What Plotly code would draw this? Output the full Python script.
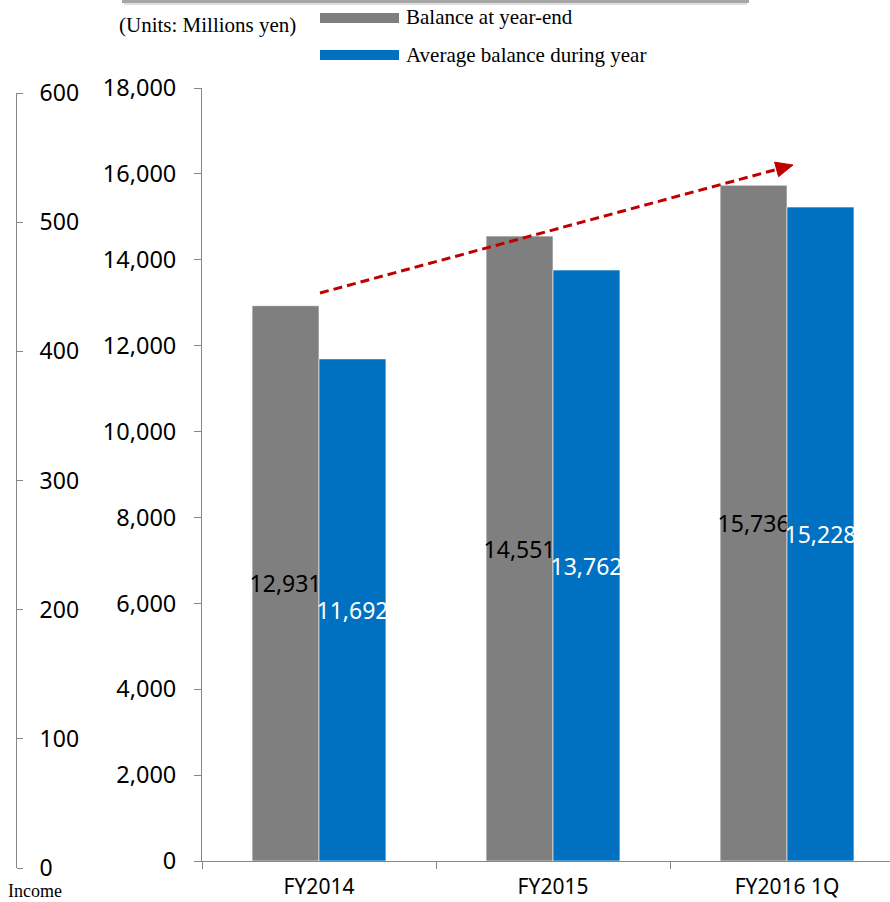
import plotly.graph_objects as go

# ---- data ----
categories = ["FY2014", "FY2015", "FY2016 1Q"]
balance_year_end = [12931, 14551, 15736]
average_balance = [11692, 13762, 15228]
series_names = ["Balance at year-end", "Average balance during year"]
units_label = "(Units: Millions yen)"
left_axis_title = "Income"

W, H = 890, 902
GRAY = "#7F7F7F"
BLUE = "#0070C0"
AXIS = "#868686"
RED = "#C00000"
NUM_FONT = "Noto Sans"
SERIF = "Liberation Serif"


def px(x):
    return x / W


def py(y):
    return 1 - y / H


fig = go.Figure()
fig.add_trace(go.Bar(
    x=categories, y=balance_year_end, name=series_names[0],
    marker=dict(color=GRAY, line=dict(color="white", width=0.6)),
    text=[f"{v:,}" for v in balance_year_end], textposition="inside",
    insidetextanchor="middle", constraintext="none", textangle=0,
    textfont=dict(color="black", size=23, family=NUM_FONT),
    showlegend=False,
))
fig.add_trace(go.Bar(
    x=categories, y=average_balance, name=series_names[1],
    marker=dict(color=BLUE, line=dict(color="white", width=0.6)),
    text=[f"{v:,}" for v in average_balance], textposition="inside",
    insidetextanchor="middle", constraintext="none", textangle=0,
    textfont=dict(color="white", size=23, family=NUM_FONT),
    showlegend=False,
))
# carrier trace for the secondary (income) axis
fig.add_trace(go.Scatter(x=[categories[0]], y=[None], yaxis="y2",
                         mode="lines", showlegend=False, hoverinfo="skip"))

# ---- trend arrow (dashed shaft + solid head) ----
x0p, y0p = 320, 293
tipx, tipy = 793, 165
dx, dy = tipx - x0p, tipy - y0p
L = (dx ** 2 + dy ** 2) ** 0.5
ux, uy = dx / L, dy / L
hl, hw = 17, 7.5
bx, by = tipx - hl * ux, tipy - hl * uy
pxn, pyn = -uy, ux
head = [(tipx, tipy), (bx + hw * pxn, by + hw * pyn), (bx - hw * pxn, by - hw * pyn)]
head_path = "M " + " L ".join(f"{px(a)},{py(b)}" for a, b in head) + " Z"

shapes = [
    # box edge with shadow along the top
    dict(type="rect", xref="paper", yref="paper", x0=px(122), x1=px(749),
         y0=py(3), y1=py(0), fillcolor="#a6a6a6", line=dict(width=0)),
    dict(type="rect", xref="paper", yref="paper", x0=px(124), x1=px(747),
         y0=py(5), y1=py(3), fillcolor="#dedede", line=dict(width=0)),
    # legend swatches
    dict(type="rect", xref="paper", yref="paper", x0=px(320), x1=px(399),
         y0=py(23), y1=py(13), fillcolor=GRAY, line=dict(width=0)),
    dict(type="rect", xref="paper", yref="paper", x0=px(320), x1=px(399),
         y0=py(60), y1=py(50), fillcolor=BLUE, line=dict(width=0)),
    # dashed trend line
    dict(type="line", xref="paper", yref="paper", x0=px(x0p), y0=py(y0p),
         x1=px(bx), y1=py(by), line=dict(color=RED, width=3, dash="9px,5px")),
    dict(type="path", xref="paper", yref="paper", path=head_path,
         fillcolor=RED, line=dict(color=RED, width=1)),
]

annotations = [
    dict(text=units_label, xref="paper", yref="paper", x=px(117), y=py(25),
         xanchor="left", yanchor="middle", showarrow=False,
         font=dict(family=SERIF, size=21, color="black")),
    dict(text=series_names[0], xref="paper", yref="paper", x=px(404), y=py(17),
         xanchor="left", yanchor="middle", showarrow=False,
         font=dict(family=SERIF, size=21, color="black")),
    dict(text=series_names[1], xref="paper", yref="paper", x=px(404), y=py(55),
         xanchor="left", yanchor="middle", showarrow=False,
         font=dict(family=SERIF, size=21, color="black")),
    dict(text=left_axis_title, xref="paper", yref="paper", x=px(6), y=py(891),
         xanchor="left", yanchor="middle", showarrow=False,
         font=dict(family=SERIF, size=18, color="black")),
]

fig.update_layout(
    width=W, height=H,
    margin=dict(l=0, r=0, t=0, b=0, autoexpand=False),
    paper_bgcolor="white", plot_bgcolor="rgba(0,0,0,0)",
    barmode="group", bargap=0.428, bargroupgap=0,
    showlegend=False,
    shapes=shapes, annotations=annotations,
    xaxis=dict(
        domain=[px(202), 1], type="category", range=[-0.5, 2.44],
        tickson="boundaries", ticks="outside", ticklen=7, tickcolor=AXIS,
        showline=True, linecolor=AXIS, linewidth=1, showgrid=False,
        tickfont=dict(family=NUM_FONT, size=21, color="black"),
        ticklabelstandoff=7, anchor="y", automargin=False,
    ),
    yaxis=dict(
        domain=[py(861), py(88)], range=[0, 18000], tickvals=list(range(0, 18001, 2000)),
        tickformat=",", ticks="outside", ticklen=7, tickcolor=AXIS,
        showline=True, linecolor=AXIS, linewidth=1, showgrid=False, zeroline=False,
        tickfont=dict(family=NUM_FONT, size=23.5, color="black"),
        ticklabelstandoff=13, anchor="x", automargin=False,
    ),
    yaxis2=dict(
        domain=[py(868), py(93)], range=[0, 600], dtick=100,
        anchor="free", position=px(16), side="right",
        ticks="outside", ticklen=6, tickcolor=AXIS,
        showline=True, linecolor=AXIS, linewidth=1, showgrid=False, zeroline=False,
        tickfont=dict(family=NUM_FONT, size=23, color="black"),
        ticklabelstandoff=12, automargin=False,
    ),
)

fig.write_html("out.html")
